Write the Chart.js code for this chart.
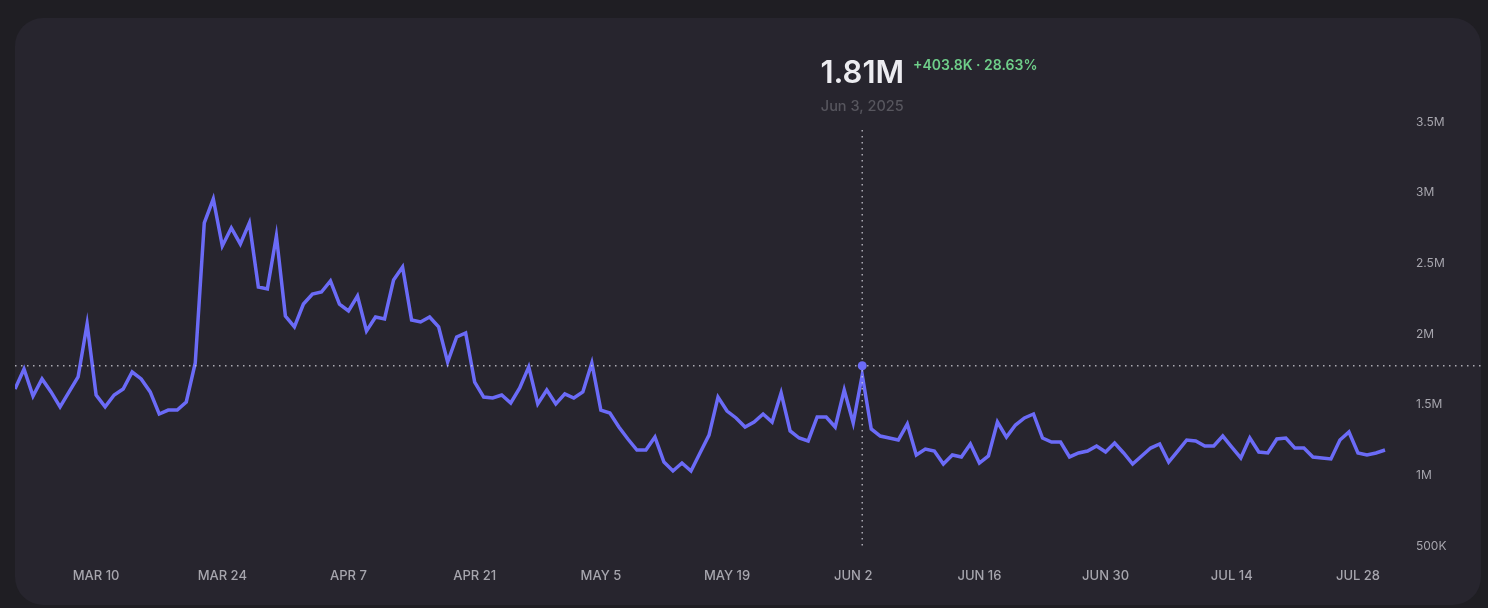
<!DOCTYPE html>
<html>
<head>
<meta charset="utf-8">
<script src="https://cdn.jsdelivr.net/npm/chart.js@4.4.0/dist/chart.umd.min.js"></script>
<style>
  html, body { margin: 0; padding: 0; background: #1f1e23; width: 1488px; height: 608px; overflow: hidden; }
  .card { position: absolute; left: 15px; top: 18px; width: 1466px; height: 587px; background: #27252e; border-radius: 28px; overflow: hidden; }
  canvas { display: block; }
</style>
</head>
<body>
<div class="card"><canvas id="chart" width="1466" height="587"></canvas></div>
<script>
// daily series, Mar 1 2025 .. Jul 31 2025
const startDate = [2025, 2, 1];
const dailyValues = [
  1611000, 1752000, 1561000, 1682000, 1590000, 1484000, 1590000, 1696000, 2071000, 1568000,
  1484000, 1568000, 1611000, 1731000, 1682000, 1590000, 1434000, 1462000, 1462000, 1519000,
  1795000, 2786000, 2955000, 2623000, 2750000, 2637000, 2786000, 2333000, 2319000, 2694000,
  2127000, 2050000, 2212000, 2283000, 2297000, 2375000, 2212000, 2163000, 2269000, 2021000,
  2120000, 2106000, 2382000, 2474000, 2099000, 2085000, 2120000, 2050000, 1802000, 1979000,
  2007000, 1660000, 1554000, 1547000, 1568000, 1512000, 1618000, 1767000, 1505000, 1604000,
  1505000, 1576000, 1547000, 1590000, 1795000, 1462000, 1441000, 1342000, 1257000, 1179000,
  1179000, 1271000, 1094000, 1031000, 1087000, 1031000, 1158000, 1285000, 1554000, 1455000,
  1406000, 1342000, 1377000, 1434000, 1377000, 1583000, 1314000, 1264000, 1243000, 1413000,
  1413000, 1342000, 1604000, 1370000, 1710000, 1328000, 1278000, 1264000, 1250000, 1363000,
  1144000, 1186000, 1172000, 1080000, 1144000, 1130000, 1222000, 1087000, 1137000, 1377000,
  1271000, 1356000, 1406000, 1434000, 1264000, 1236000, 1236000, 1130000, 1158000, 1172000,
  1208000, 1165000, 1229000, 1158000, 1080000, 1137000, 1193000, 1222000, 1094000, 1172000,
  1250000, 1243000, 1208000, 1208000, 1278000, 1200000, 1123000, 1264000, 1165000, 1158000,
  1257000, 1264000, 1193000, 1193000, 1130000, 1123000, 1116000, 1250000, 1307000, 1158000,
  1144000, 1158000, 1179000
];
const xTickLabels = ['MAR 10', 'MAR 24', 'APR 7', 'APR 21', 'MAY 5', 'MAY 19', 'JUN 2', 'JUN 16', 'JUN 30', 'JUL 14', 'JUL 28'];
const yMin = 500000;
const yMax = 3500000;
const yStep = 500000;

// hovered point
const markerIndex = 94;
const markerValue = 1775000;
const markerTitle = '1.81M';
const markerDelta = '+403.8K · 28.63%';
const markerDate = 'Jun 3, 2025';

const monthNames = ['JAN', 'FEB', 'MAR', 'APR', 'MAY', 'JUN', 'JUL', 'AUG', 'SEP', 'OCT', 'NOV', 'DEC'];
const categories = dailyValues.map((_, i) => {
  const d = new Date(startDate[0], startDate[1], startDate[2] + i);
  return monthNames[d.getMonth()] + ' ' + d.getDate();
});

const lineColor = '#6b6bf7';
const axisText = '#a6a5ad';

function formatTick(v) {
  if (v >= 1000000) return (v / 1000000) + 'M';
  return (v / 1000) + 'K';
}

const crosshair = {
  id: 'crosshair',
  afterDatasetsDraw(chart) {
    const { ctx, chartArea, scales } = chart;
    const x = scales.x.getPixelForValue(markerIndex);
    const y = scales.y.getPixelForValue(markerValue);
    ctx.save();
    ctx.strokeStyle = 'rgba(215, 214, 222, 0.75)';
    ctx.lineWidth = 1.5;
    ctx.setLineDash([1.5, 4.5]);
    ctx.beginPath();
    ctx.moveTo(0, y);
    ctx.lineTo(chart.width, y);
    ctx.moveTo(x, chartArea.top + 8);
    ctx.lineTo(x, chartArea.bottom + 4);
    ctx.stroke();
    ctx.setLineDash([]);

    ctx.fillStyle = lineColor;
    ctx.beginPath();
    ctx.arc(x, y, 4.5, 0, Math.PI * 2);
    ctx.fill();

    ctx.textBaseline = 'alphabetic';
    ctx.textAlign = 'center';
    ctx.font = '600 31px Inter';
    ctx.fillStyle = '#ececf0';
    ctx.fillText(markerTitle, x, 65);
    const w = ctx.measureText(markerTitle).width;

    ctx.textAlign = 'left';
    ctx.font = '600 14px Inter';
    ctx.fillStyle = '#6fcf8a';
    ctx.fillText(markerDelta, x + w / 2 + 9, 52);

    ctx.textAlign = 'center';
    ctx.font = '500 14.5px Inter';
    ctx.fillStyle = '#57565e';
    ctx.fillText(markerDate, x, 93);
    ctx.restore();
  }
};

new Chart(document.getElementById('chart').getContext('2d'), {
  type: 'line',
  data: {
    labels: categories,
    datasets: [{
      data: dailyValues,
      borderColor: lineColor,
      borderWidth: 3.5,
      pointRadius: 0,
      pointHoverRadius: 0,
      tension: 0,
      fill: false
    }]
  },
  options: {
    responsive: false,
    animation: false,
    layout: { padding: { top: 104, left: 0, right: 0, bottom: 0 } },
    plugins: {
      legend: { display: false },
      tooltip: { enabled: false }
    },
    events: [],
    scales: {
      x: {
        type: 'category',
        grid: { display: false, drawTicks: false },
        border: { display: false },
        ticks: {
          autoSkip: false,
          maxRotation: 0,
          padding: 22,
          color: axisText,
          font: { family: 'Inter', size: 13, weight: '500' },
          callback(val) {
            const label = this.getLabelForValue(val);
            return xTickLabels.includes(label) ? label : null;
          }
        },
        afterFit(scale) { scale.height = 59; }
      },
      y: {
        position: 'right',
        min: yMin,
        max: yMax,
        grid: { display: false, drawTicks: false },
        border: { display: false },
        ticks: {
          stepSize: yStep,
          padding: 31,
          color: axisText,
          font: { family: 'Inter', size: 12, weight: '400' },
          callback: (v) => formatTick(v)
        },
        afterFit(scale) { scale.width = 96; }
      }
    }
  },
  plugins: [crosshair]
});
</script>
</body>
</html>
